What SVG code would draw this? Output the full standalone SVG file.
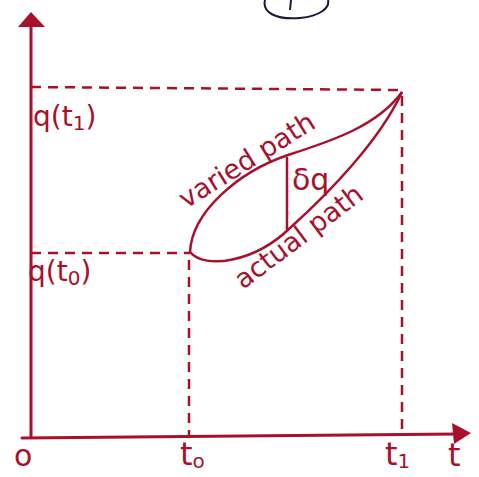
<svg xmlns="http://www.w3.org/2000/svg" width="479" height="477" viewBox="0 0 479 477">
<style>
.ax{stroke:#a8102c;stroke-width:3;fill:none;stroke-linecap:round}
.dash{stroke:#a8102c;stroke-width:2.5;fill:none;stroke-dasharray:10 7}
.curve{stroke:#a8102c;stroke-width:2.5;fill:none}
.lbl{font-family:"DejaVu Sans","Liberation Sans",sans-serif;fill:#a8102c}
</style>
<rect width="479" height="477" fill="#ffffff"/>
<path d="M265,0 C262,12 275,20 300,18 C320,16 330,8 328,0" fill="none" stroke="#1a1a3a" stroke-width="2"/>
<line x1="291" y1="0" x2="290" y2="10" stroke="#1a1a3a" stroke-width="2"/>
<g id="connectors">
<line class="ax" x1="31" y1="436" x2="31" y2="24"/>
<polygon points="31,12 18,27 45,27" fill="#a8102c"/>
<line class="ax" x1="22" y1="438" x2="458" y2="434"/>
<polygon points="471,433 452,423 454,444" fill="#a8102c"/>
<line class="dash" x1="31" y1="87" x2="402" y2="90"/>
<line class="dash" x1="402" y1="96" x2="402" y2="436"/>
<line class="dash" x1="31" y1="253" x2="190" y2="253"/>
<line class="dash" x1="189" y1="260" x2="189" y2="436"/>
<path class="curve" d="M190,252 C192,212 238,172 288,155 C335,140 378,125 402,92"/>
<path class="curve" d="M190,252 C205,270 255,262 290,228 C330,192 380,140 402,92"/>
<line class="curve" x1="287" y1="157" x2="287" y2="230"/>
</g>
<g id="labels">
<text class="lbl" x="33" y="126" style="font-size:28px">q(t<tspan style="font-size:20px" dy="4">1</tspan><tspan dy="-4">)</tspan></text>
<text class="lbl" x="28" y="281" style="font-size:28px">q(t<tspan style="font-size:20px" dy="4">0</tspan><tspan dy="-4">)</tspan></text>
<text class="lbl" transform="translate(186,209) rotate(-32)" style="font-size:27px">varied path</text>
<text class="lbl" transform="translate(243,290) rotate(-37)" style="font-size:27px">actual path</text>
<text class="lbl" x="292" y="190" style="font-size:30px">δq</text>
<text class="lbl" x="14" y="466" style="font-size:30px">o</text>
<text class="lbl" x="180" y="465" style="font-size:32px">t<tspan style="font-size:20px" dy="3">o</tspan></text>
<text class="lbl" x="385" y="465" style="font-size:32px">t<tspan style="font-size:20px" dy="3">1</tspan></text>
<text class="lbl" x="448" y="466" style="font-size:32px">t</text>
</g>
</svg>
